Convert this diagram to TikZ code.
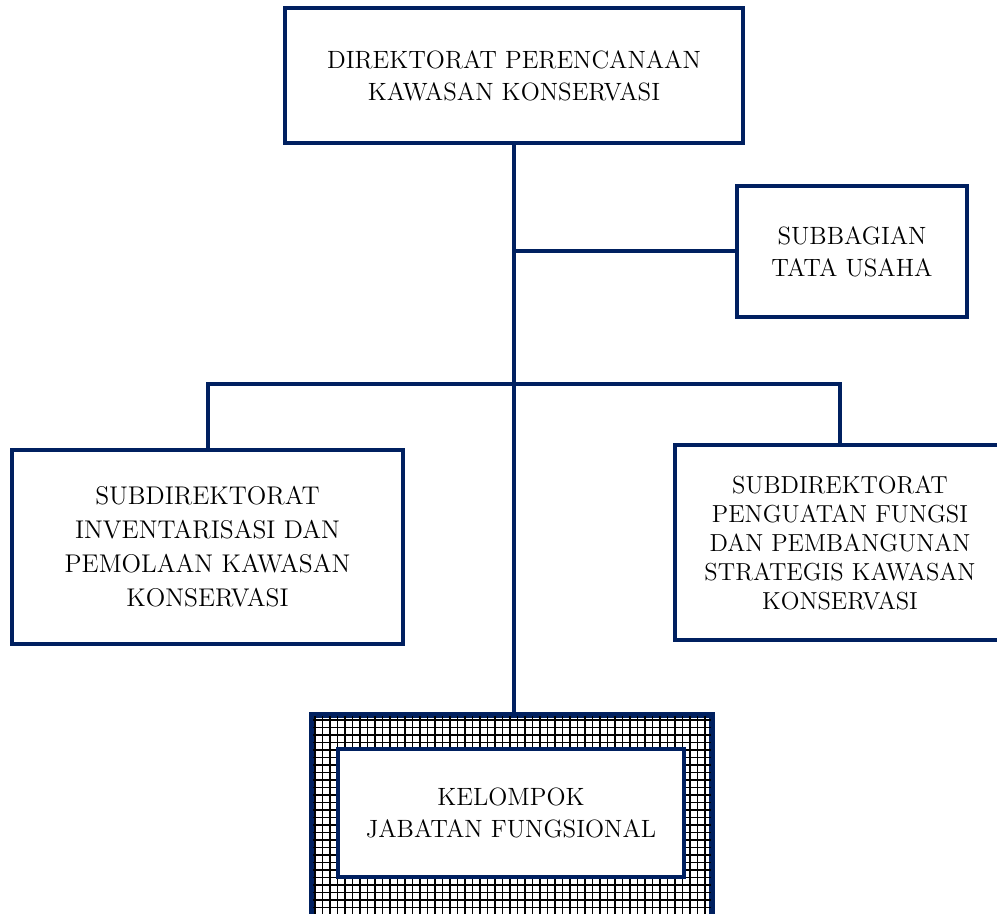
\documentclass[tikz,border=0pt]{standalone}
\definecolor{navy}{RGB}{0,32,96}
\begin{document}
\begin{tikzpicture}[x=0.5pt, y=-0.5pt,
        box/.style={draw=navy, line width=2pt, align=center, fill=white,
            font=\fontsize{12.5}{16}\selectfont, inner sep=0pt},
        link/.style={draw=navy, line width=2pt}]
                \useasboundingbox (0,0) rectangle (997,914);
                % boxes
                \node [box, minimum width=229pt, minimum height=67.5pt] (dir) at (514,75.5)
                    {DIREKTORAT PERENCANAAN\\KAWASAN KONSERVASI};
                \node [box, minimum width=115pt, minimum height=65.5pt] (tu) at (852,251.5)
                    {SUBBAGIAN\\TATA USAHA};
                \node [box, minimum width=195.5pt, minimum height=97pt,
                    font=\fontsize{12.8}{17}\selectfont] (inv) at (207.5,547)
                    {SUBDIREKTORAT\\INVENTARISASI DAN\\PEMOLAAN KAWASAN\\KONSERVASI};
                \node [box, minimum width=165pt, minimum height=97.5pt,
                    font=\fontsize{12.3}{14.5}\selectfont] (pf) at (840,542.5)
                    {SUBDIREKTORAT\\PENGUATAN FUNGSI\\DAN PEMBANGUNAN\\STRATEGIS KAWASAN\\KONSERVASI};
                \node [draw=navy, line width=2pt, minimum width=199pt,
                    minimum height=107pt, inner sep=0pt] (jf) at (512,823) {};
                \begin{scope}
                    \clip (jf.north west) rectangle (jf.south east);
                    \draw [black, line width=0.9pt, step=3.75pt] (jf.south west) grid (jf.north east);
                \end{scope}
                \draw [navy, line width=2pt] (jf.north west) rectangle (jf.south east);
                \node [box, line width=1.8pt, minimum width=173pt, minimum height=64pt] (jfi) at (511,813)
                    {KELOMPOK\\JABATAN FUNGSIONAL};
                % lines
                \coordinate (bar) at (514,384);
                \draw [link] (dir.south) -- (dir.south |- jf.north);
                \draw [link] (dir.south |- tu.west) -- (tu.west);
                \draw [link] (inv.north) -- (inv.north |- bar) -- (pf.north |- bar) -- (pf.north);
            \end{tikzpicture}
\end{document}
